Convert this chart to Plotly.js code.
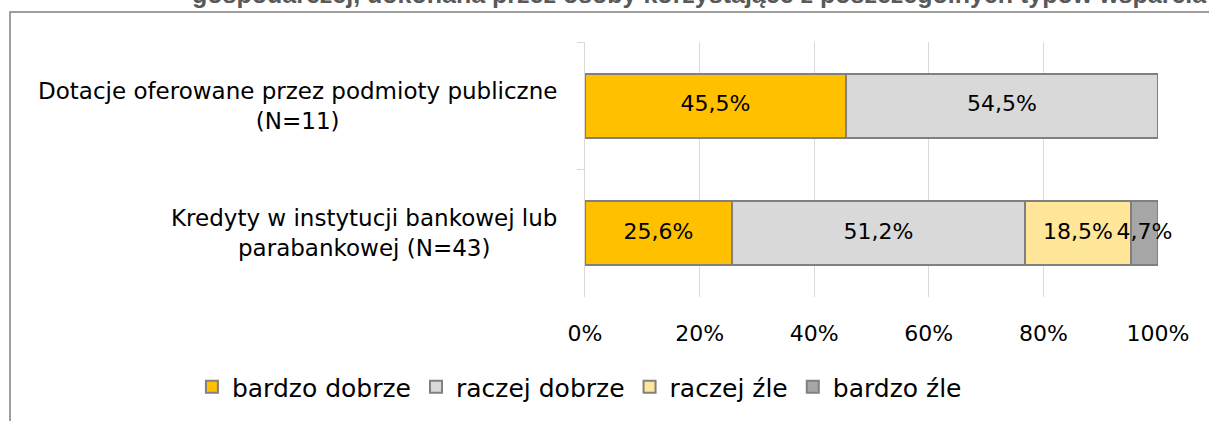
<!DOCTYPE html>
<html>
<head>
<meta charset="utf-8">
<script src="https://cdn.plot.ly/plotly-3.0.1.min.js"></script>
<style>
  html, body { margin: 0; padding: 0; background: #fff; }
  #chart { width: 1209px; height: 421px; }
</style>
</head>
<body>
<div id="chart"></div>
<script>
// ------------------------------
// Data
// ------------------------------
const categories = [
  "Dotacje oferowane przez podmioty publiczne<br>(N=11)",
  "Kredyty w instytucji bankowej lub<br>parabankowej (N=43)"
];
const seriesNames = ["bardzo dobrze", "raczej dobrze", "raczej źle", "bardzo źle"];
const bardzoDobrze = [45.5, 25.6];
const raczejDobrze = [54.5, 51.2];
const raczejZle = [null, 18.5];
const bardzoZle = [null, 4.7];
const seriesColors = ["#FFC000", "#D9D9D9", "#FFE699", "#A6A6A6"];
const xTicks = [0, 20, 40, 60, 80, 100];
const cutTitle = "gospodarczej, dokonana przez osoby korzystające z poszczególnych typów wsparcia";

const FONT = "DejaVu Sans, sans-serif";
const series = [bardzoDobrze, raczejDobrze, raczejZle, bardzoZle];

const traces = series.map((vals, i) => ({
  type: "bar",
  orientation: "h",
  name: seriesNames[i],
  y: categories,
  x: vals,
  marker: { color: seriesColors[i], line: { color: "#808080", width: 2 } },
  hoverinfo: "skip",
}));

// ------------------------------
// Data labels: a text-only trace at the middle of each stacked segment
// (bar text gets clipped / hidden for the narrow last segment)
// ------------------------------
const lblX = [], lblY = [], lblT = [];
categories.forEach((c, ci) => {
  let acc = 0;
  series.forEach(vals => {
    const v = vals[ci];
    if (v == null) return;
    lblX.push(acc + v / 2);
    lblY.push(c);
    lblT.push(v.toFixed(1).replace(".", ",") + "%");
    acc += v;
  });
});
traces.push({
  type: "scatter",
  mode: "text",
  x: lblX,
  y: lblY,
  text: lblT,
  textposition: "middle center",
  textfont: { family: FONT, size: 22, color: "#000" },
  cliponaxis: false,
  showlegend: false,
  hoverinfo: "skip",
});

// category labels as centred annotations (multi-line tick labels can't be centred)
const catLabels = categories.map(c => ({
  xref: "paper", yref: "y",
  x: 0, y: c,
  xanchor: "right", yanchor: "middle",
  xshift: -26,
  align: "center",
  text: c,
  showarrow: false,
  font: { family: FONT, size: 23, color: "#000" },
}));

const layout = {
  width: 1209,
  height: 421,
  margin: { l: 585, r: 51, t: 42, b: 124, autoexpand: false },
  paper_bgcolor: "#fff",
  plot_bgcolor: "#fff",
  separators: ",.",
  barmode: "stack",
  bargap: 0.5,
  showlegend: true,
  font: { family: FONT, size: 22, color: "#000" },
  xaxis: {
    range: [0, 100],
    tickvals: xTicks,
    ticktext: xTicks.map(v => v + "%"),
    showgrid: true,
    gridcolor: "#D9D9D9",
    gridwidth: 1,
    zeroline: false,
    showline: false,
    ticks: "",
    ticklabelstandoff: 21,
    tickfont: { family: FONT, size: 22, color: "#000" },
    fixedrange: true,
  },
  yaxis: {
    autorange: "reversed",
    showticklabels: false,
    showline: true,
    linecolor: "#D9D9D9",
    linewidth: 1,
    ticks: "outside",
    tickson: "boundaries",
    ticklen: 7,
    tickcolor: "#D9D9D9",
    showgrid: false,
    fixedrange: true,
  },
  legend: {
    orientation: "h",
    x: -0.686, xanchor: "left",
    y: -0.353, yanchor: "middle",
    traceorder: "normal",
    itemwidth: 30,
    font: { family: FONT, size: 25, color: "#000" },
  },
  shapes: [{
    type: "rect",
    xref: "paper", yref: "paper",
    x0: -1.0035, x1: 1.3,
    y0: 1.1176, y1: -0.7,
    line: { color: "#7F7F7F", width: 1.5 },
    fillcolor: "rgba(0,0,0,0)",
    layer: "below",
  }],
  annotations: catLabels.concat([{
    xref: "paper", yref: "paper",
    x: -0.69, y: 1.188,
    xanchor: "left", yanchor: "middle",
    text: "<b>" + cutTitle + "</b>",
    showarrow: false,
    font: { family: "Liberation Sans, Arial, sans-serif", size: 25, color: "#595959" },
  }]),
};

Plotly.newPlot("chart", traces, layout, { displayModeBar: false, staticPlot: true });
</script>
</body>
</html>
